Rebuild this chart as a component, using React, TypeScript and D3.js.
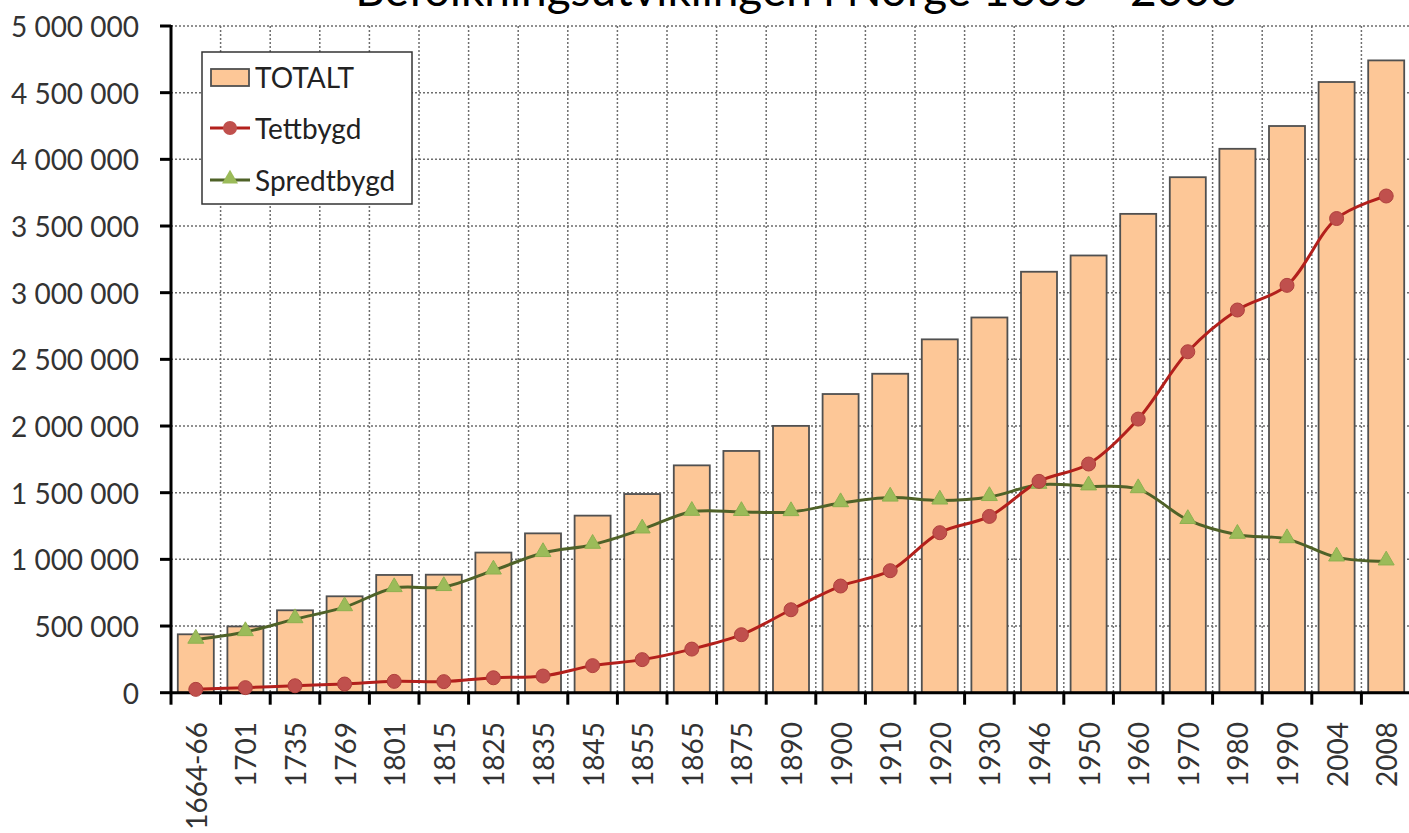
import React, { useEffect } from "react";
import * as d3 from "d3";

const title = "Befolkningsutviklingen i Norge 1665 - 2008";
const categories = ["1664-66","1701","1735","1769","1801","1815","1825","1835","1845","1855","1865","1875","1890","1900","1910","1920","1930","1946","1950","1960","1970","1980","1990","2004","2008"];
const totalt = [438000,497000,618000,723000,883000,885000,1051000,1195000,1328000,1490000,1705000,1813000,2001000,2240000,2392000,2650000,2814000,3157000,3279000,3591000,3866000,4079000,4250000,4580000,4742000];
const tettbygd = [25000,38000,52000,65000,85000,83000,112000,125000,203000,248000,327000,435000,622000,800000,915000,1200000,1322000,1585000,1715000,2052000,2557000,2870000,3055000,3556000,3725000];
const spredtbygd = [398000,455000,552000,642000,785000,793000,917000,1048000,1110000,1225000,1357000,1356000,1355000,1422000,1464000,1442000,1468000,1560000,1548000,1527000,1296000,1185000,1152000,1015000,985000];
const yTicks = [0,500000,1000000,1500000,2000000,2500000,3000000,3500000,4000000,4500000,5000000];
const legendItems = ["TOTALT","Tettbygd","Spredtbygd"];

const W = 1409, H = 833;
const left = 171, right = 1411, top = 26, bottom = 692.7;
const FONT = "Lato, 'Open Sans', sans-serif";

export default function App() {
  useEffect(() => { document.body.style.margin = "0"; }, []);
  const x = d3.scaleBand<string>().domain(categories).range([left, right]).paddingInner(0.274).paddingOuter(0.137);
  const xb = d3.scaleLinear().domain([0, categories.length]).range([left, right]);
  const y = d3.scaleLinear().domain([0, 5000000]).range([bottom, top]);
  const fmt = d3.formatLocale({ thousands: " ", grouping: [3], decimal: ",", currency: ["", ""] }).format(",");
  const cx = (c: string) => (x(c) as number) + x.bandwidth() / 2;
  const line = d3.line<number>().x((_, i) => cx(categories[i])).y((d) => y(d)).curve(d3.curveCatmullRom.alpha(0.5));
  const tri = d3.symbol().type(d3.symbolTriangle).size(110)();
  const boundaries = d3.range(categories.length + 1);

  return (
    <svg width={W} height={H} style={{ position: "absolute", left: 0, top: 0, background: "#fff" }} fontFamily={FONT}>
      <rect x={0} y={0} width={W} height={H} fill="#fff" />
      <text x={796} y={6} textAnchor="middle" fontSize={46} fill="#000">{title}</text>
      {/* grid */}
      <g stroke="#6e6e6e" strokeWidth={1.5} strokeDasharray="2,2">
        {yTicks.filter((t) => t > 0).map((t) => (
          <line key={"h" + t} x1={left} x2={W} y1={y(t)} y2={y(t)} />
        ))}
        {boundaries.slice(1).map((i) => (
          <line key={"v" + i} x1={xb(i)} x2={xb(i)} y1={top} y2={bottom} />
        ))}
      </g>
      {/* bars */}
      <g fill="#FDC797" stroke="#505050" strokeWidth={1.8}>
        {categories.map((c, i) => (
          <rect key={c} x={x(c)} y={y(totalt[i])} width={x.bandwidth()} height={bottom - y(totalt[i])} />
        ))}
      </g>
      {/* axes */}
      <g stroke="#000" strokeWidth={3}>
        <line x1={left} x2={left} y1={top - 1} y2={bottom + 1} />
        <line x1={left} x2={W} y1={bottom} y2={bottom} />
        {yTicks.map((t) => (
          <line key={"yt" + t} x1={left - 11} x2={left} y1={y(t)} y2={y(t)} />
        ))}
        {boundaries.map((i) => (
          <line key={"xt" + i} x1={xb(i)} x2={xb(i)} y1={bottom} y2={bottom + 12} />
        ))}
      </g>
      <g fontSize={28} fill="#333">
        {yTicks.map((t) => (
          <text key={"yl" + t} x={139} y={y(t)} textAnchor="end" dominantBaseline="central">{fmt(t)}</text>
        ))}
        {categories.map((c) => (
          <text key={"xl" + c} transform={`translate(${cx(c)},722) rotate(-90)`} textAnchor="end" dominantBaseline="central">{c}</text>
        ))}
      </g>
      {/* lines */}
      <path d={line(spredtbygd) || ""} fill="none" stroke="#4F6228" strokeWidth={3} />
      <path d={line(tettbygd) || ""} fill="none" stroke="#B3201C" strokeWidth={3} />
      {spredtbygd.map((v, i) => (
        <path key={"s" + i} d={tri || ""} transform={`translate(${cx(categories[i])},${y(v) - 1})`} fill="#9BBB59" stroke="#8FB050" strokeWidth={1} />
      ))}
      {tettbygd.map((v, i) => (
        <circle key={"t" + i} cx={cx(categories[i])} cy={y(v)} r={7} fill="#C0504D" stroke="#B0403D" strokeWidth={1} />
      ))}
      {/* legend */}
      <g>
        <rect x={202} y={52} width={210} height={152} fill="#fff" stroke="#333" strokeWidth={1.5} />
        <rect x={211} y={69} width={38} height={17} fill="#FDC797" stroke="#505050" strokeWidth={1.8} />
        <line x1={210} x2={250} y1={128} y2={128} stroke="#B3201C" strokeWidth={3} />
        <circle cx={230} cy={128} r={7} fill="#C0504D" />
        <line x1={210} x2={250} y1={180} y2={180} stroke="#4F6228" strokeWidth={3} />
        <path d={tri || ""} transform="translate(230,179)" fill="#9BBB59" />
        {legendItems.map((l, i) => (
          <text key={l} x={255} y={[77, 128, 180][i]} fontSize={28} fill="#222" dominantBaseline="central">{l}</text>
        ))}
      </g>
    </svg>
  );
}
